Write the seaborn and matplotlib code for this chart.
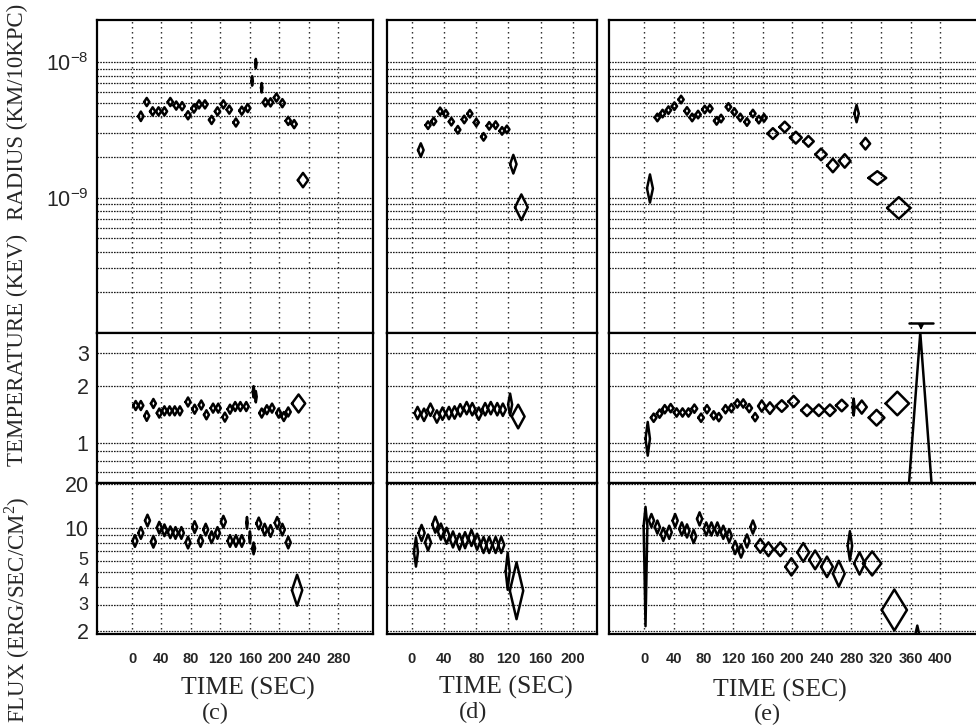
import numpy as np
import pandas as pd
import matplotlib
matplotlib.use("Agg")
import matplotlib.pyplot as plt
from matplotlib.ticker import FixedLocator, FixedFormatter, NullFormatter
from matplotlib.transforms import ScaledTranslation
import seaborn as sns

# ---------------- burst (c) ----------------
t_rad_c = [12, 20, 28, 36, 44, 52, 60, 68, 76, 84, 91, 99, 108, 116, 124, 132, 141, 149, 157,
           163, 168, 176, 181, 188, 196, 204, 212, 220, 232]
rad_c = [4.0e-9, 5.1e-9, 4.35e-9, 4.35e-9, 4.35e-9, 5.1e-9, 4.8e-9, 4.75e-9, 4.07e-9, 4.56e-9,
         4.9e-9, 4.9e-9, 3.76e-9, 4.35e-9, 4.9e-9, 4.48e-9, 3.6e-9, 4.4e-9, 4.6e-9,
         7.3e-9, 9.8e-9, 6.5e-9, 5.07e-9, 5.07e-9, 5.5e-9, 5.0e-9, 3.7e-9, 3.5e-9, 1.35e-9]
dt_rad_c = [3.6, 3.6, 3.6, 3.6, 3.6, 3.6, 3.6, 3.6, 3.6, 3.6, 3.6, 3.6, 3.6, 3.6, 3.6, 3.6, 3.6, 3.6, 3.6,
            1.0, 1.0, 1.0, 3.6, 3.6, 3.6, 3.6, 3.6, 3.6, 7.0]
err_rad_c = [0.035, 0.03, 0.03, 0.03, 0.03, 0.03, 0.03, 0.03, 0.03, 0.03, 0.03, 0.03,
             0.03, 0.03, 0.03, 0.03, 0.03, 0.03, 0.03, 0.035, 0.035, 0.035, 0.03, 0.03,
             0.03, 0.03, 0.03, 0.03, 0.053]

t_kt_c = [5, 12, 20, 29, 37, 44, 51, 58, 65, 76, 85, 94, 101, 110, 117, 126, 133, 140, 147, 155,
          165, 168, 176, 183, 190, 199, 206, 212, 226]
kt_c = [1.58, 1.58, 1.39, 1.62, 1.44, 1.48, 1.48, 1.48, 1.48, 1.65, 1.51, 1.59, 1.41, 1.53, 1.53,
        1.37, 1.51, 1.56, 1.56, 1.56, 1.87, 1.76, 1.44, 1.50, 1.53, 1.44, 1.38, 1.46, 1.62]
dt_kt_c = [3.4, 3.4, 3.4, 3.4, 3.4, 3.4, 3.4, 3.4, 3.4, 3.4, 3.4, 3.4, 3.4, 3.4, 3.4, 3.4, 3.4, 3.4,
           3.4, 3.4, 1.2, 1.2, 3.4, 3.4, 3.4, 3.4, 3.4, 3.4, 9.0]
err_kt_c = [0.024, 0.024, 0.026, 0.024, 0.024, 0.024, 0.024, 0.024, 0.024, 0.024, 0.024, 0.024,
            0.024, 0.024, 0.024, 0.024, 0.024, 0.024, 0.024, 0.024, 0.03, 0.03, 0.024, 0.024,
            0.024, 0.024, 0.024, 0.024, 0.048]

t_flux_c = [4, 12, 21, 29, 37, 44, 52, 59, 67, 76, 85, 93, 100, 108, 116, 124, 133, 141, 149, 156,
            160, 165, 172, 180, 188, 197, 204, 212, 224]
flux_c = [8.2, 9.3, 11.3, 8.1, 10.1, 9.7, 9.4, 9.3, 9.3, 8.0, 10.2, 8.2, 9.8, 8.7, 9.3, 11.1, 8.2,
          8.2, 8.2, 10.9, 8.7, 7.3, 10.8, 9.8, 9.6, 10.9, 9.8, 8.0, 3.78]
dt_flux_c = [3.4, 3.4, 3.4, 3.4, 3.4, 3.4, 3.4, 3.4, 3.4, 3.4, 3.4, 3.4, 3.4, 3.4, 3.4, 3.4, 3.4,
             3.4, 3.4, 1.0, 1.0, 2.0, 3.4, 3.4, 3.4, 3.4, 3.4, 3.4, 7.0]
err_flux_c = [0.04, 0.04, 0.04, 0.04, 0.04, 0.04, 0.04, 0.04, 0.04, 0.04, 0.04, 0.04, 0.04, 0.04,
              0.04, 0.04, 0.04, 0.04, 0.04, 0.04, 0.04, 0.04, 0.04, 0.04, 0.04, 0.04, 0.04, 0.04,
              0.106]

# ---------------- burst (d) ----------------
t_rad_d = [11, 20, 27, 35, 42, 49, 57, 65, 72, 80, 89, 96, 104, 112, 118, 126, 136]
rad_d = [2.25e-9, 3.44e-9, 3.67e-9, 4.35e-9, 4.18e-9, 3.65e-9, 3.18e-9, 3.79e-9, 4.18e-9, 3.6e-9,
         2.82e-9, 3.4e-9, 3.44e-9, 3.12e-9, 3.2e-9, 1.77e-9, 8.5e-10]
dt_rad_d = [3.5, 3.2, 3.2, 3.2, 3.2, 3.2, 3.2, 3.2, 3.2, 3.2, 3.2, 3.2, 3.2, 3.2, 3.2, 4.0, 7.9]
err_rad_d = [0.05, 0.028, 0.028, 0.028, 0.028, 0.028, 0.028, 0.028, 0.028, 0.028, 0.028, 0.028,
             0.028, 0.028, 0.028, 0.069, 0.095]

t_kt_d = [7, 15, 23, 31, 38, 46, 53, 60, 68, 75, 83, 91, 98, 106, 113, 122, 132]
kt_d = [1.44, 1.41, 1.50, 1.38, 1.43, 1.44, 1.45, 1.49, 1.53, 1.51, 1.43, 1.51, 1.53, 1.51, 1.50,
        1.60, 1.38]
dt_kt_d = [3.8, 3.8, 3.8, 3.8, 3.8, 3.8, 3.8, 3.8, 3.8, 3.8, 3.8, 3.8, 3.8, 3.8, 3.8, 2.5, 8.0]
err_kt_d = [0.033, 0.033, 0.033, 0.033, 0.033, 0.033, 0.033, 0.033, 0.033, 0.033, 0.033, 0.033,
            0.033, 0.033, 0.033, 0.058, 0.063]

t_flux_d = [5, 12, 20, 29, 36, 43, 51, 59, 66, 74, 81, 89, 96, 104, 111, 119, 130]
flux_d = [6.9, 9.3, 8.0, 10.6, 9.5, 8.9, 8.4, 8.1, 8.3, 8.6, 8.1, 7.7, 7.7, 7.7, 7.7, 5.1, 3.75]
dt_flux_d = [2.5, 3.8, 3.8, 3.8, 3.8, 3.8, 3.8, 3.8, 3.8, 3.8, 3.8, 3.8, 3.8, 3.8, 3.8, 2.5, 8.3]
err_flux_d = [0.1, 0.055, 0.055, 0.055, 0.055, 0.055, 0.055, 0.055, 0.055, 0.055, 0.055, 0.055,
              0.055, 0.055, 0.055, 0.127, 0.194]

# ---------------- burst (e) ----------------
t_rad_e = [8, 18, 25, 33, 41, 50, 58, 65, 73, 82, 89, 98, 104, 114, 122, 130, 139, 147, 155, 162,
           174, 190, 205, 222, 239, 255, 271, 287, 299, 315, 344]
rad_e = [1.17e-9, 3.92e-9, 4.19e-9, 4.44e-9, 4.75e-9, 5.32e-9, 4.38e-9, 3.92e-9, 4.12e-9, 4.49e-9,
         4.56e-9, 3.7e-9, 3.85e-9, 4.69e-9, 4.3e-9, 3.92e-9, 3.63e-9, 4.19e-9, 3.78e-9, 3.89e-9,
         2.98e-9, 3.33e-9, 2.78e-9, 2.61e-9, 2.09e-9, 1.73e-9, 1.87e-9, 4.19e-9, 2.51e-9, 1.4e-9,
         8.4e-10]
dt_rad_e = [4.0, 3.6, 3.6, 3.6, 3.6, 3.6, 3.6, 3.6, 3.6, 3.6, 3.6, 3.6, 3.6, 3.6, 3.6, 3.6, 3.6,
            3.6, 3.6, 3.6, 7.4, 7.2, 8.0, 7.2, 7.7, 7.9, 7.9, 3.0, 6.3, 12.0, 15.8]
err_rad_e = [0.104, 0.028, 0.028, 0.028, 0.028, 0.028, 0.028, 0.028, 0.028, 0.028, 0.028, 0.028,
             0.028, 0.028, 0.028, 0.028, 0.028, 0.028, 0.028, 0.028, 0.04, 0.04, 0.044, 0.04,
             0.043, 0.05, 0.05, 0.064, 0.043, 0.05, 0.08]
t_rad_lim_e = 374
rad_lim_e = 1.19e-10

t_kt_e = [5, 13, 21, 28, 36, 44, 52, 60, 68, 77, 85, 94, 101, 110, 118, 126, 134, 142, 150, 159,
          170, 186, 202, 220, 236, 251, 267, 283, 294, 314, 342, 373]
kt_e = [1.05, 1.36, 1.43, 1.51, 1.53, 1.45, 1.45, 1.45, 1.52, 1.36, 1.51, 1.40, 1.37, 1.51, 1.53,
        1.62, 1.62, 1.53, 1.37, 1.57, 1.53, 1.57, 1.66, 1.49, 1.49, 1.49, 1.58, 1.55, 1.55, 1.36,
        1.62, 0.30]
dt_kt_e = [3.0, 3.8, 3.8, 3.8, 3.8, 3.8, 3.8, 3.8, 3.8, 3.8, 3.8, 3.8, 3.8, 3.8, 3.8, 3.8, 3.8,
           3.8, 3.8, 5.0, 6.3, 8.0, 7.2, 7.9, 7.9, 7.9, 7.9, 1.5, 6.8, 10.6, 15.8, 21.0]
err_kt_e = [0.09, 0.022, 0.022, 0.022, 0.022, 0.022, 0.022, 0.022, 0.022, 0.022, 0.022, 0.022,
            0.022, 0.022, 0.022, 0.022, 0.022, 0.022, 0.022, 0.03, 0.031, 0.031, 0.03, 0.031,
            0.031, 0.031, 0.031, 0.045, 0.035, 0.042, 0.063, (0.6, 1.11)]

t_flux_e = [2, 10, 18, 26, 34, 42, 51, 58, 67, 75, 84, 91, 99, 107, 115, 123, 131, 139, 147, 157,
            168, 184, 199, 215, 231, 247, 263, 278, 291, 308, 338, 369]
flux_e = [10.4, 11.3, 10.2, 9.1, 9.4, 11.3, 9.9, 9.6, 8.8, 11.6, 9.9, 9.9, 9.9, 9.4, 8.9, 7.4, 7.0,
          8.2, 10.2, 7.6, 7.2, 7.2, 5.46, 6.85, 6.09, 5.46, 4.9, 7.6, 5.76, 5.76, 2.77, 1.6]
dt_flux_e = [2.5, 3.5, 3.5, 3.5, 3.5, 3.5, 3.5, 3.5, 3.5, 3.5, 3.5, 3.5, 3.5, 3.5, 3.5, 3.5, 3.5,
             3.5, 3.5, 6.8, 6.8, 7.9, 8.3, 8.0, 8.0, 8.0, 8.0, 3.0, 7.4, 12.4, 17.0, 5.7]
err_flux_e = [(0.685, 0.13), 0.045, 0.045, 0.045, 0.045, 0.045, 0.045, 0.045, 0.045, 0.045, 0.045,
              0.045, 0.045, 0.045, 0.045, 0.045, 0.045, 0.045, 0.045, 0.047, 0.047, 0.047, 0.059,
              0.064, 0.064, 0.07, 0.088, 0.1, 0.076, 0.082, 0.14, 0.132]

# ---------------- axis annotation ----------------
ticks_c = [0, 40, 80, 120, 160, 200, 240, 280]
ticks_d = [0, 40, 80, 120, 160, 200]
ticks_e = [0, 40, 80, 120, 160, 200, 240, 280, 320, 360, 400]

rad_labels = {1e-9: r"$\mathsf{10^{-9}}$", 1e-8: r"$\mathsf{10^{-8}}$"}
rad_grid = [2e-10, 3e-10, 4e-10, 5e-10, 6e-10, 7e-10, 8e-10, 9e-10,
            2e-9, 3e-9, 4e-9, 5e-9, 6e-9, 7e-9, 8e-9, 9e-9]
kt_labels = {1: "1", 2: "2", 3: "3"}
kt_grid = [0.7, 0.8, 0.9]
flux_labels = {2: "2", 3: "3", 4: "4", 5: "5", 10: "10", 20: "20"}
flux_grid = [6, 7, 8, 9]
# the crowded flux labels are set smaller and spread upward a little (pixels)
flux_label_lift = {3: 1, 4: 7, 5: 14}

row_titles = ["RADIUS (KM/10KPC)", "TEMPERATURE (KEV)", r"FLUX (ERG/SEC/CM$^{\mathrm{2}}$)"]
panel_names = ["(c)", "(d)", "(e)"]
x_title = "TIME (SEC)"


def diamonds(t, v, dt, err):
    """Error diamonds: horizontal extent = time bin, vertical extent = error (dex)."""
    recs = []
    for i, (ti, vi, di, ei) in enumerate(zip(t, v, dt, err)):
        lo, hi = (ei, ei) if np.isscalar(ei) else ei
        xs = [ti - di, ti, ti + di, ti, ti - di]
        ys = [vi, vi * 10 ** hi, vi, vi * 10 ** (-lo), vi]
        for k, (x, y) in enumerate(zip(xs, ys)):
            recs.append((i, k, x, y))
    return pd.DataFrame(recs, columns=["bin", "k", "t", "val"])


sns.set_theme(style="white")
plt.rcParams.update({
    "font.family": ["Liberation Serif", "DejaVu Serif"],
    "mathtext.fontset": "custom",
    "mathtext.rm": "Liberation Serif",
    "mathtext.sf": "Liberation Sans",
    "axes.edgecolor": "black",
    "axes.linewidth": 1.6,
})

W, H = 976, 728
fig = plt.figure(figsize=(W / 100, H / 100), dpi=100)
fig.patch.set_facecolor("white")

columns = [
    dict(x0=97, x1=373, xlim=(-47.5, 327), ticks=ticks_c,
         series=[(t_rad_c, rad_c, dt_rad_c, err_rad_c),
                 (t_kt_c, kt_c, dt_kt_c, err_kt_c),
                 (t_flux_c, flux_c, dt_flux_c, err_flux_c)]),
    dict(x0=387, x1=597, xlim=(-31, 230), ticks=ticks_d,
         series=[(t_rad_d, rad_d, dt_rad_d, err_rad_d),
                 (t_kt_d, kt_d, dt_kt_d, err_kt_d),
                 (t_flux_d, flux_d, dt_flux_d, err_flux_d)]),
    dict(x0=609, x1=981, xlim=(-47.3, 455), ticks=ticks_e,
         series=[(t_rad_e, rad_e, dt_rad_e, err_rad_e),
                 (t_kt_e, kt_e, dt_kt_e, err_kt_e),
                 (t_flux_e, flux_e, dt_flux_e, err_flux_e)]),
]
rows = [
    dict(y0=20, y1=333, ylim=(1e-10, 2.06e-8), labels=rad_labels, grid=rad_grid, lift={}),
    dict(y0=333, y1=483, ylim=(0.61, 3.85), labels=kt_labels, grid=kt_grid, lift={}),
    dict(y0=483, y1=634, ylim=(1.9, 20.4), labels=flux_labels, grid=flux_grid, lift=flux_label_lift),
]

axes = {}
for ci, col in enumerate(columns):
    for ri, row in enumerate(rows):
        rect = [col["x0"] / W, 1 - row["y1"] / H,
                (col["x1"] - col["x0"]) / W, (row["y1"] - row["y0"]) / H]
        ax = fig.add_axes(rect)
        ax.set_yscale("log")
        ax.set_xlim(*col["xlim"])
        ax.set_ylim(*row["ylim"])

        t, v, dt, err = col["series"][ri]
        df = diamonds(t, v, dt, err)
        sns.lineplot(data=df, x="t", y="val", units="bin", estimator=None, sort=False,
                     color="black", lw=1.8, legend=False, ax=ax)

        # dotted grid: log sub-decades horizontally, time ticks vertically
        yvals = sorted(row["labels"])
        ax.yaxis.set_major_locator(FixedLocator(yvals))
        ax.yaxis.set_major_formatter(FixedFormatter([row["labels"][k] for k in yvals]))
        ax.yaxis.set_minor_locator(FixedLocator(row["grid"]))
        ax.yaxis.set_minor_formatter(NullFormatter())
        ax.set_xticks(col["ticks"])
        ax.grid(True, axis="y", which="both", color="0.1", lw=0.9, ls=(0, (1.3, 0.9)))
        ax.grid(True, axis="x", which="major", color="0.1", lw=1.0, ls=(0, (1, 2.6)))

        ax.tick_params(axis="y", which="both", length=0, pad=6, labelsize=15.5,
                       labelleft=(ci == 0))
        if ci == 0:
            for val, tick in zip(yvals, ax.yaxis.get_major_ticks()):
                lab = tick.label1
                lab.set_fontfamily(["Liberation Sans", "DejaVu Sans"])
                lift = row["lift"].get(val, 0)
                if lift:
                    lab.set_fontsize(13)
                    lab.set_transform(lab.get_transform() +
                                      ScaledTranslation(0, lift / 100, fig.dpi_scale_trans))
        if ri == 2:
            ax.tick_params(axis="x", direction="in", length=4, width=1.2, pad=13,
                           labelsize=10.5, labelbottom=True)
            for lab in ax.get_xticklabels():
                lab.set_fontfamily(["Liberation Sans", "DejaVu Sans"])
                lab.set_fontweight("bold")
        else:
            ax.tick_params(axis="x", length=0, labelbottom=False)
        ax.set_xlabel("")
        ax.set_ylabel("")
        for sp in ax.spines.values():
            sp.set_linewidth(1.6)
            sp.set_color("black")
        axes[(ci, ri)] = ax

# upper limit on the radius in the last interval of burst (e)
ax_lim = axes[(2, 0)]
ax_lim.plot([t_rad_lim_e - 16, t_rad_lim_e + 16], [rad_lim_e, rad_lim_e], color="black", lw=1.8)
ax_lim.annotate("", xy=(t_rad_lim_e, 1e-10), xytext=(t_rad_lim_e, rad_lim_e),
                arrowprops=dict(arrowstyle="-|>", color="black", lw=1.2, mutation_scale=8),
                annotation_clip=False)

# row titles on the left
for (yc, txt) in zip([112, 350, 610], row_titles):
    fig.text(17 / W, 1 - yc / H, txt, rotation=90, ha="center", va="center", fontsize=16.5)

# time axis titles and burst letters
for (xc, yc), (xl, yl), name in zip([(248, 688), (506, 687), (780, 690)],
                                    [(215, 713), (473, 712), (767, 714)], panel_names):
    fig.text(xc / W, 1 - yc / H, x_title, ha="center", va="center", fontsize=18.5)
    fig.text(xl / W, 1 - yl / H, name, ha="center", va="center", fontsize=17.5)

fig.savefig("out.png", dpi=100, facecolor="white")
